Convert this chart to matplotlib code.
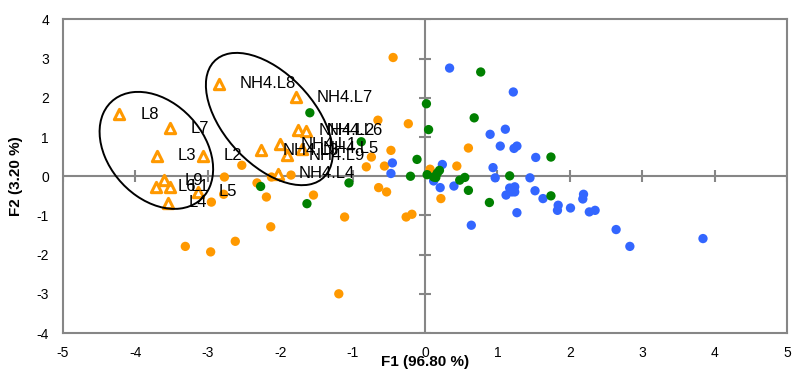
import matplotlib.pyplot as plt
from matplotlib.patches import Ellipse

plt.rcParams['font.family'] = ['Liberation Sans', 'DejaVu Sans']
plt.rcParams['axes.unicode_minus'] = False

# orange circles
orange_x = [-0.44, -0.65, -0.23, -0.47, -0.74, -0.81, -0.56, 0.60, 0.44, 0.07,
            -2.53, -1.85, -2.12, -2.32, -2.77, -2.19, -1.54, -0.64, -0.53, 0.22,
            -2.78, -2.95, -1.11, -0.26, -0.18, -2.13, -2.62, -3.31, -2.96, -1.19]
orange_y = [3.03, 1.43, 1.34, 0.66, 0.49, 0.24, 0.26, 0.72, 0.26, 0.18,
            0.28, 0.03, -0.02, -0.17, -0.02, -0.53, -0.48, -0.29, -0.40, -0.57,
            -0.46, -0.66, -1.04, -1.04, -0.97, -1.29, -1.66, -1.79, -1.93, -3.00]

# blue circles
blue_x = [0.34, 1.22, 0.90, 1.11, 1.04, 1.23, 1.27, 1.53, -0.45, 0.24,
          0.94, -0.47, 0.12, 0.21, 0.40, 0.97, 1.17, 1.24, 1.20, 1.12,
          1.24, 1.45, 1.52, 1.63, 1.84, 1.83, 2.01, 1.27, 0.64, 2.19,
          2.18, 2.27, 2.35, 2.64, 2.83, 3.84]
blue_y = [2.76, 2.15, 1.07, 1.20, 0.77, 0.71, 0.77, 0.48, 0.34, 0.30,
          0.22, 0.07, -0.12, -0.29, -0.25, -0.04, -0.30, -0.27, -0.40, -0.48,
          -0.40, -0.04, -0.37, -0.57, -0.74, -0.87, -0.81, -0.93, -1.25, -0.46,
          -0.58, -0.91, -0.87, -1.36, -1.79, -1.59]

# green circles
green_x = [0.77, 0.02, -1.59, 0.68, 0.05, -0.88, 1.74, -0.11, 0.03, 0.12,
           0.17, 0.20, 0.15, -0.20, 0.48, 0.55, 0.60, 0.89, 1.17, 1.74,
           -1.05, -1.63, -2.27]
green_y = [2.66, 1.85, 1.62, 1.49, 1.19, 0.88, 0.49, 0.43, 0.04, -0.02,
           0.08, 0.15, -0.03, 0.00, -0.10, -0.03, -0.36, -0.67, 0.01, -0.50,
           -0.17, -0.70, -0.26]

# labelled triangles
l_labels = ['L1', 'L2', 'L3', 'L4', 'L5', 'L6', 'L7', 'L8', 'L9']
l_x = [-3.52, -3.07, -3.70, -3.55, -3.14, -3.71, -3.52, -4.22, -3.61]
l_y = [-0.27, 0.52, 0.52, -0.67, -0.39, -0.27, 1.22, 1.58, -0.10]

nh4_labels = ['NH4.L1', 'NH4.L2', 'NH4.L3', 'NH4.L4', 'NH4.L5', 'NH4.L6', 'NH4.L7', 'NH4.L8', 'NH4.L9']
nh4_x = [-2.00, -1.76, -2.26, -2.03, -1.70, -1.64, -1.78, -2.85, -1.90]
nh4_y = [0.82, 1.17, 0.66, 0.07, 0.70, 1.16, 2.02, 2.36, 0.54]

xticks = [-5, -4, -3, -2, -1, 0, 1, 2, 3, 4, 5]
yticks = [-4, -3, -2, -1, 0, 1, 2, 3, 4]

grey = '#868686'
fig = plt.figure(figsize=(7.95, 3.74), dpi=100)
ax = fig.add_axes([0.0792, 0.1096, 0.9107, 0.8383])
ax.set_xlim(-5, 5)
ax.set_ylim(-4, 4)

# zero lines with crossing ticks
ax.axhline(0, color=grey, lw=1.5, zorder=1)
ax.axvline(0, color=grey, lw=1.5, zorder=1)
ax.plot(xticks, [0] * len(xticks), ls='none', marker='|', ms=9, mew=1.5, color=grey, zorder=1)
ax.plot([0] * len(yticks), yticks, ls='none', marker='_', ms=9, mew=1.5, color=grey, zorder=1)

ax.scatter(orange_x, orange_y, s=45, color='#FF9900', edgecolors='none', zorder=3)
ax.scatter(blue_x, blue_y, s=45, color='#3366FF', edgecolors='none', zorder=3)
ax.scatter(green_x, green_y, s=45, color='#008000', edgecolors='none', zorder=3)

ax.scatter(l_x, l_y, s=55, marker='^', facecolors='white', edgecolors='#FF9900', linewidths=2.2, zorder=4)
ax.scatter(nh4_x, nh4_y, s=55, marker='^', facecolors='white', edgecolors='#FF9900', linewidths=2.2, zorder=4)
for lab, x, y in zip(l_labels + nh4_labels, l_x + nh4_x, l_y + nh4_y):
    ax.annotate(lab, (x, y), xytext=(15, 0), textcoords='offset points',
                va='center', ha='left', fontsize=12, zorder=5)

# group ellipses
ax.add_patch(Ellipse((-3.71, 0.66), 3.04, 1.46, angle=102.4, fill=False, ec='black', lw=1.4, zorder=5))
ax.add_patch(Ellipse((-2.15, 1.46), 3.52, 1.44, angle=108.1, fill=False, ec='black', lw=1.4, zorder=5))

for s in ax.spines.values():
    s.set_color(grey)
    s.set_linewidth(1.5)
ax.set_xticks(xticks)
ax.set_yticks(yticks)
ax.tick_params(length=0, labelsize=10, pad=9)
ax.tick_params(axis='y', pad=10)
ax.set_xlabel('F1 (96.80 %)', fontsize=11, fontweight='bold', labelpad=-3)
ax.set_ylabel('F2 (3.20 %)', fontsize=11, fontweight='bold', labelpad=10)

fig.savefig('out.png', dpi=100)
